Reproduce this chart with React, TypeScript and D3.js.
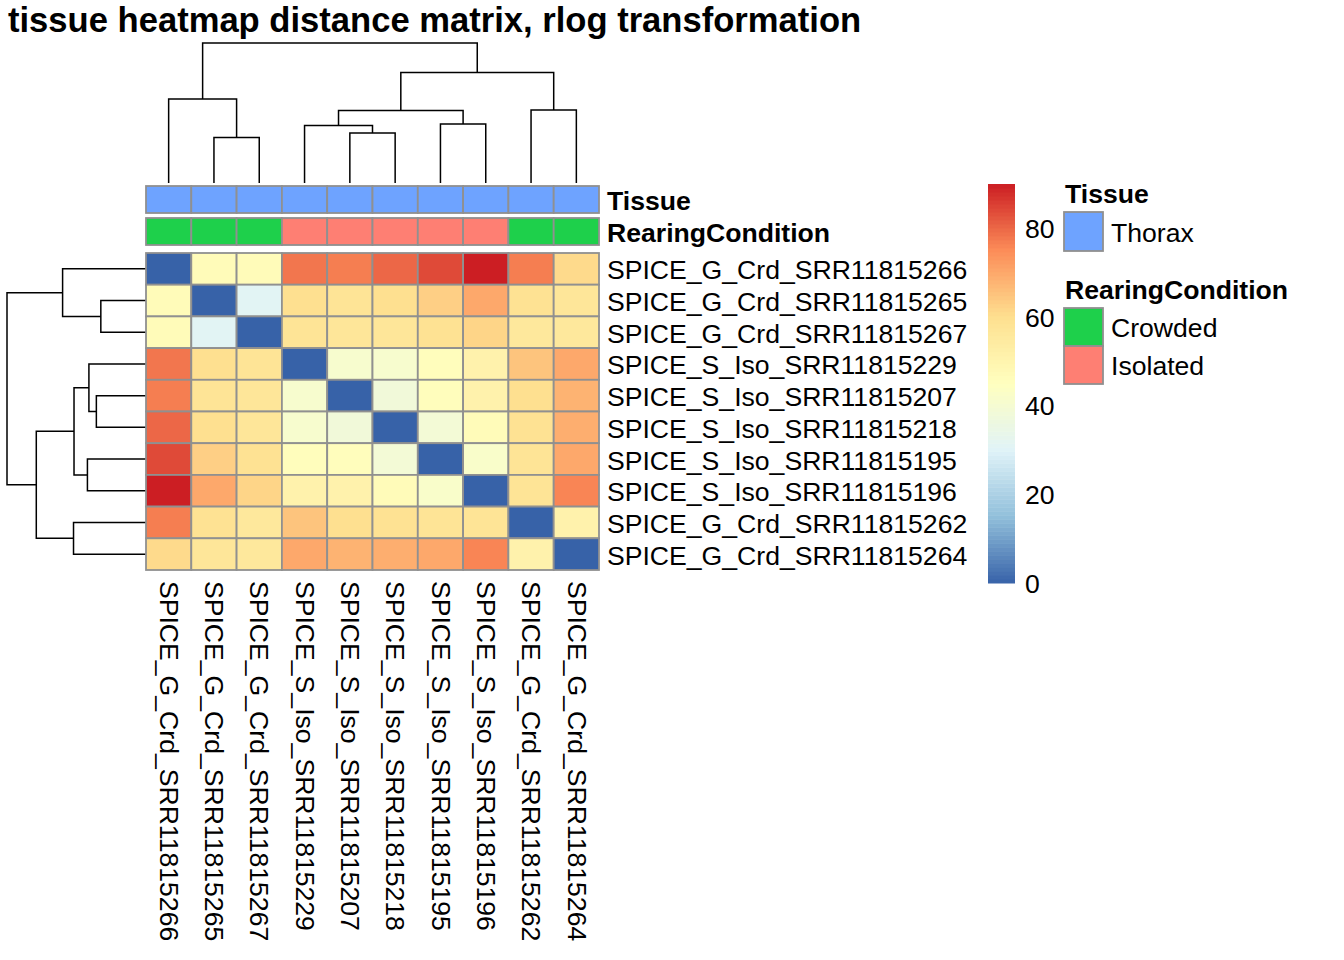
import * as d3 from 'd3'

const samples = [
  'SPICE_G_Crd_SRR11815266',
  'SPICE_G_Crd_SRR11815265',
  'SPICE_G_Crd_SRR11815267',
  'SPICE_S_Iso_SRR11815229',
  'SPICE_S_Iso_SRR11815207',
  'SPICE_S_Iso_SRR11815218',
  'SPICE_S_Iso_SRR11815195',
  'SPICE_S_Iso_SRR11815196',
  'SPICE_G_Crd_SRR11815262',
  'SPICE_G_Crd_SRR11815264',
]

const tissue = ['Thorax', 'Thorax', 'Thorax', 'Thorax', 'Thorax', 'Thorax', 'Thorax', 'Thorax', 'Thorax', 'Thorax']
const rearing = ['Crowded', 'Crowded', 'Crowded', 'Isolated', 'Isolated', 'Isolated', 'Isolated', 'Isolated', 'Crowded', 'Crowded']

// sample distance matrix (rows / cols in dendrogram order)
const distances = [
  [0, 47, 47, 78, 77, 80, 84, 89.9, 77, 61],
  [47, 0, 31, 60, 58, 60, 63, 70, 59, 57],
  [47, 31, 0, 58, 57, 57, 59, 62, 56, 56],
  [78, 60, 58, 0, 41, 41, 46, 51, 65, 70],
  [77, 58, 57, 41, 0, 38, 46, 51, 60, 68],
  [80, 60, 57, 41, 38, 0, 39, 47, 59, 69],
  [84, 63, 59, 46, 46, 39, 0, 42, 58, 70],
  [89.9, 70, 62, 51, 51, 47, 42, 0, 58, 76],
  [77, 59, 56, 65, 60, 59, 58, 58, 0, 51],
  [61, 57, 56, 70, 68, 69, 70, 76, 51, 0],
]

// hclust style merges: negative = leaf (1-based), positive = earlier merge
const mergeLeft = [-2, -5, -4, -7, 3, -9, -1, 5, 7]
const mergeRight = [-3, -6, 2, -8, 4, -10, 1, 6, 8]
const mergeHeight = [45.5, 50, 57.5, 59, 72.5, 73, 84, 110.5, 140]

const legendTicks = [0, 20, 40, 60, 80]
const paletteColors = ['#3762A8', '#91BFDB', '#E0F3F8', '#FFFFBF', '#FEE090', '#FC8D59', '#CC1E23']

const annotationColors: Record<string, string> = {
  Thorax: '#6EA3FF',
  Crowded: '#1ED04B',
  Isolated: '#FE7F73',
}

const FONT = "'Liberation Sans', Arial, Helvetica, sans-serif"

type Node = { p: number; h: number }

function layoutDendro(pos: (i: number) => number) {
  const nodes: Node[] = []
  const get = (id: number): Node => (id < 0 ? { p: pos(-id - 1), h: 0 } : nodes[id - 1])
  return mergeLeft.map((l, i) => {
    const a = get(l)
    const b = get(mergeRight[i])
    const h = mergeHeight[i]
    nodes.push({ p: (a.p + b.p) / 2, h })
    return { a, b, h }
  })
}

export default function App() {
  const n = samples.length
  const left = 146
  const top = 253
  const heatW = 453
  const heatH = 317
  const fs = 26.6
  const border = '#909090'

  const x = d3.scaleBand<number>().domain(d3.range(n)).range([left, left + heatW])
  const y = d3.scaleBand<number>().domain(d3.range(n)).range([top, top + heatH])

  const maxVal = d3.max(distances.flat()) || 1
  const color = d3
    .scaleLinear<string>()
    .domain(paletteColors.map((_, i) => (i / (paletteColors.length - 1)) * maxVal))
    .range(paletteColors)
    .interpolate(d3.interpolateRgb)

  const maxH = d3.max(mergeHeight) || 1
  const colH = d3.scaleLinear().domain([0, maxH]).range([183, 43])
  const rowH = d3.scaleLinear().domain([0, maxH]).range([left, 7])

  const colSegs = layoutDendro((i) => (x(i) || 0) + x.bandwidth() / 2)
  const rowSegs = layoutDendro((i) => (y(i) || 0) + y.bandwidth() / 2)

  const annRows = [
    { name: 'Tissue', values: tissue, y0: 186 },
    { name: 'RearingCondition', values: rearing, y0: 218 },
  ]
  const annH = 27

  // legend colour bar
  const barTop = 184
  const barBottom = 583
  const lg = d3.scaleLinear().domain([0, maxVal]).range([barBottom, barTop])
  const slices = d3.range(100).map((i) => (i / 100) * maxVal)

  return (
    <svg
      width={1344}
      height={960}
      style={{ position: 'absolute', left: 0, top: 0, background: '#fff' }}
      fontFamily={FONT}
    >
      <rect width={1344} height={960} fill="#fff" />
      <text x={8} y={32} fontSize={34.6} fontWeight="bold">
        tissue heatmap distance matrix, rlog transformation
      </text>

      {/* dendrograms */}
      <g fill="none" stroke="#000" strokeWidth={1.5}>
        {colSegs.map((s, i) => (
          <path
            key={'c' + i}
            d={`M${s.a.p},${colH(s.a.h)}V${colH(s.h)}H${s.b.p}V${colH(s.b.h)}`}
          />
        ))}
        {rowSegs.map((s, i) => (
          <path
            key={'r' + i}
            d={`M${rowH(s.a.h)},${s.a.p}H${rowH(s.h)}V${s.b.p}H${rowH(s.b.h)}`}
          />
        ))}
      </g>

      {/* annotations */}
      {annRows.map((a) => (
        <g key={a.name}>
          {a.values.map((v, j) => (
            <rect
              key={j}
              x={x(j)}
              y={a.y0}
              width={x.bandwidth()}
              height={annH}
              fill={annotationColors[v]}
              stroke={border}
              strokeWidth={1.8}
            />
          ))}
          <text x={607} y={a.y0 + annH / 2 + 10} fontSize={fs} fontWeight="bold">
            {a.name}
          </text>
        </g>
      ))}

      {/* heatmap cells */}
      <g>
        {distances.map((row, i) =>
          row.map((v, j) => (
            <rect
              key={i + '-' + j}
              x={x(j)}
              y={y(i)}
              width={x.bandwidth()}
              height={y.bandwidth()}
              fill={color(v)}
              stroke={border}
              strokeWidth={1.8}
            />
          ))
        )}
      </g>

      {/* row labels */}
      {samples.map((s, i) => (
        <text key={'rl' + s} x={607} y={(y(i) || 0) + y.bandwidth() / 2 + 10.5} fontSize={fs}>
          {s}
        </text>
      ))}

      {/* column labels */}
      {samples.map((s, j) => (
        <text
          key={'cl' + s}
          transform={`translate(${(x(j) || 0) + x.bandwidth() / 2},581) rotate(90)`}
          dy="0.33em"
          fontSize={fs}
        >
          {s}
        </text>
      ))}

      {/* colour legend */}
      <g>
        {slices.map((v, i) => (
          <rect
            key={'s' + i}
            x={988}
            y={lg(v + maxVal / 100)}
            width={27}
            height={lg(v) - lg(v + maxVal / 100) + 0.5}
            fill={color(v + maxVal / 200)}
          />
        ))}
        {legendTicks.map((t) => (
          <text key={'t' + t} x={1025} y={lg(t) + 10} fontSize={fs}>
            {t}
          </text>
        ))}
      </g>

      {/* annotation legend */}
      <g fontSize={fs}>
        <text x={1065} y={203} fontWeight="bold">Tissue</text>
        <rect x={1064} y={212} width={39} height={39} fill={annotationColors.Thorax} stroke={border} strokeWidth={1.8} />
        <text x={1111} y={242}>Thorax</text>
        <text x={1065} y={299} fontWeight="bold">RearingCondition</text>
        <rect x={1064} y={308} width={39} height={38} fill={annotationColors.Crowded} stroke={border} strokeWidth={1.8} />
        <text x={1111} y={337}>Crowded</text>
        <rect x={1064} y={346} width={39} height={38} fill={annotationColors.Isolated} stroke={border} strokeWidth={1.8} />
        <text x={1111} y={375}>Isolated</text>
      </g>
    </svg>
  )
}
